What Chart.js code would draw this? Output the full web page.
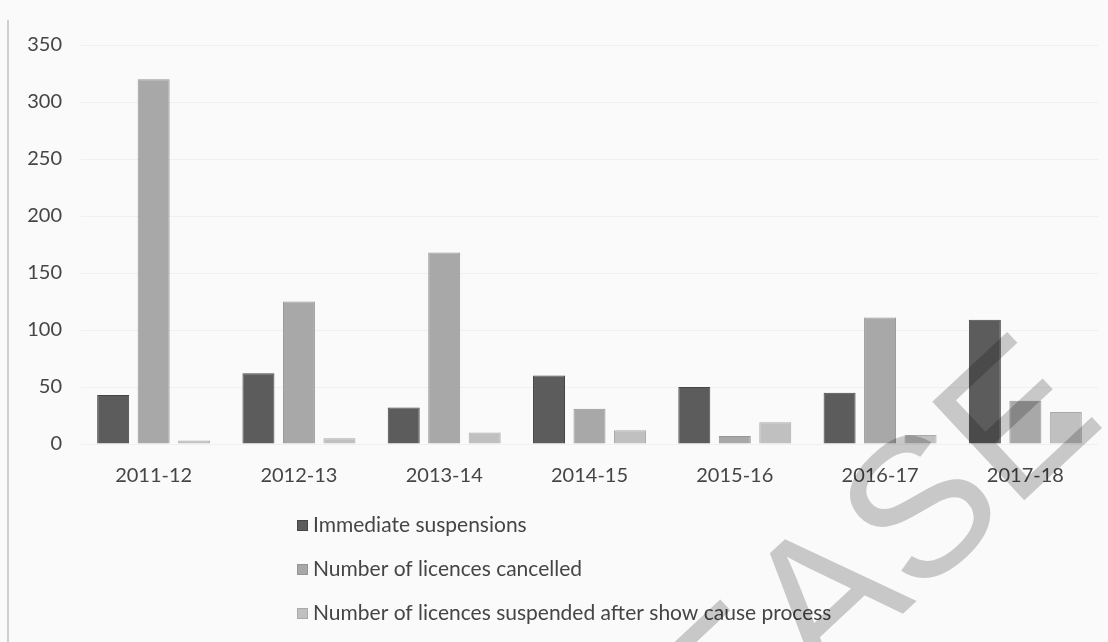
<!DOCTYPE html>
<html>
<head>
<meta charset="utf-8">
<title>Licence suspensions and cancellations</title>
<script src="https://cdn.jsdelivr.net/npm/chart.js@4"></script>
<style>
  html, body { margin: 0; padding: 0; background: #fafafa; }
  #wrap { width: 1108px; height: 642px; }
</style>
</head>
<body>
<div id="wrap"><canvas id="chart" width="1108" height="642"></canvas></div>
<script>
const years = ['2011-12', '2012-13', '2013-14', '2014-15', '2015-16', '2016-17', '2017-18'];
const immediateSuspensions = [43, 62, 32, 60, 50, 45, 109];
const licencesCancelled = [320, 125, 168, 31, 7, 111, 38];
const suspendedAfterShowCause = [3, 5, 10, 12, 19, 8, 28];
const yMax = 350;
const yStep = 50;

const FONT = 'Lato, "Open Sans", sans-serif';
const TEXT = '#454545';

// page background and the left edge of the frame
const backdrop = {
    id: 'backdrop',
    beforeDraw(chart) {
        const ctx = chart.ctx;
        ctx.save();
        ctx.fillStyle = '#fafafa';
        ctx.fillRect(0, 0, chart.width, chart.height);
        ctx.strokeStyle = '#cfcfcf';
        ctx.lineWidth = 2;
        ctx.beginPath();
        ctx.moveTo(8, 20);
        ctx.lineTo(8, chart.height);
        ctx.stroke();
        ctx.restore();
    }
};

// one legend entry per line, under the axis
const stackedLegend = {
    id: 'stackedLegend',
    afterDraw(chart) {
        const ctx = chart.ctx;
        ctx.save();
        ctx.font = '21px ' + FONT;
        ctx.textBaseline = 'middle';
        chart.data.datasets.forEach((ds, i) => {
            const y = 525 + i * 44;
            ctx.fillStyle = ds.backgroundColor;
            ctx.strokeStyle = ds.borderColor;
            ctx.lineWidth = 1;
            ctx.fillRect(297, y - 5, 11, 11);
            ctx.strokeRect(297.5, y - 4.5, 10, 10);
            ctx.fillStyle = TEXT;
            ctx.fillText(ds.label, 313, y);
        });
        ctx.restore();
    }
};

// grey stamp across the lower right corner
const stamp = {
    id: 'stamp',
    afterDraw(chart) {
        const ctx = chart.ctx;
        ctx.save();
        ctx.globalCompositeOperation = 'multiply';
        ctx.translate(1012, 416);
        ctx.rotate(-43 * Math.PI / 180);
        ctx.font = '196px "Liberation Sans", Arial, sans-serif';
        ctx.fillStyle = '#cccccc';
        ctx.textAlign = 'right';
        ctx.textBaseline = 'alphabetic';
        ctx.fillText('RELEASE', 66, 70);
        ctx.restore();
    }
};

new Chart(document.getElementById('chart'), {
    type: 'bar',
    data: {
        labels: years,
        datasets: [
            {
                label: 'Immediate suspensions',
                data: immediateSuspensions,
                backgroundColor: '#5c5c5c',
                borderColor: '#464646',
                borderWidth: 1,
            },
            {
                label: 'Number of licences cancelled',
                data: licencesCancelled,
                backgroundColor: '#a8a8a8',
                borderColor: '#959595',
                borderWidth: 1,
            },
            {
                label: 'Number of licences suspended after show cause process',
                data: suspendedAfterShowCause,
                backgroundColor: '#c0c0c0',
                borderColor: '#aaaaaa',
                borderWidth: 1,
            },
        ],
    },
    options: {
        responsive: false,
        animation: false,
        categoryPercentage: 0.836,
        barPercentage: 0.79,
        layout: {
            padding: { top: 45, right: 10, bottom: 0, left: 0 },
        },
        scales: {
            x: {
                grid: { display: false },
                border: { display: false },
                ticks: {
                    padding: 12,
                    color: TEXT,
                    font: { family: FONT, size: 20 },
                },
                afterFit: (scale) => { scale.height = 198; },
            },
            y: {
                min: 0,
                max: yMax,
                grid: { color: '#f0f0f0', drawTicks: false },
                border: { display: false },
                ticks: {
                    stepSize: yStep,
                    padding: 19,
                    color: TEXT,
                    font: { family: FONT, size: 20 },
                },
                afterFit: (scale) => { scale.width = 81; },
            },
        },
        plugins: {
            legend: { display: false },
            tooltip: { enabled: false },
        },
    },
    plugins: [backdrop, stackedLegend, stamp],
});
</script>
</body>
</html>
